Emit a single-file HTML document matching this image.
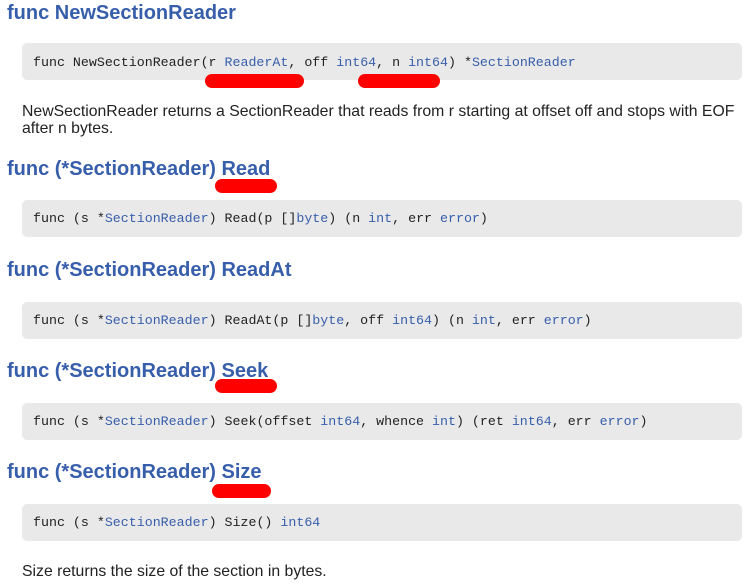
<!DOCTYPE html>
<html><head><style>
body{margin:0;width:752px;height:586px;background:#fff;position:relative;overflow:hidden;font-family:"Liberation Sans",Arial,sans-serif;color:#222}
.h{position:absolute;left:7px;font-weight:bold;font-size:20px;color:#375eab;line-height:24px;white-space:nowrap}
.box{position:absolute;left:22px;width:720px;height:37px;background:#e9e9e9;border-radius:5px}
.c{position:absolute;left:33px;font-family:"Liberation Mono",monospace;font-size:13.3px;line-height:16px;white-space:pre;color:#222}
.c span{color:#375eab}
.p{position:absolute;left:22px;font-size:15.8px;line-height:17px;width:730px;white-space:nowrap}
.r{position:absolute;background:#f00;height:14px;border-radius:7px}
</style></head><body>
<div class="h" style="top:1px">func NewSectionReader</div>
<div class="box" style="top:43px"></div>
<div class="c" style="top:55px">func NewSectionReader(r <span>ReaderAt</span>, off <span>int64</span>, n <span>int64</span>) *<span>SectionReader</span></div>
<div class="p" style="top:103px">NewSectionReader returns a SectionReader that reads from r starting at offset off and stops with EOF<br>after n bytes.</div>
<div class="h" style="top:157px">func (*SectionReader) Read</div>
<div class="box" style="top:200px"></div>
<div class="c" style="top:211px">func (s *<span>SectionReader</span>) Read(p []<span>byte</span>) (n <span>int</span>, err <span>error</span>)</div>
<div class="h" style="top:258px">func (*SectionReader) ReadAt</div>
<div class="box" style="top:302px"></div>
<div class="c" style="top:313px">func (s *<span>SectionReader</span>) ReadAt(p []<span>byte</span>, off <span>int64</span>) (n <span>int</span>, err <span>error</span>)</div>
<div class="h" style="top:359px">func (*SectionReader) Seek</div>
<div class="box" style="top:403px"></div>
<div class="c" style="top:414px">func (s *<span>SectionReader</span>) Seek(offset <span>int64</span>, whence <span>int</span>) (ret <span>int64</span>, err <span>error</span>)</div>
<div class="h" style="top:460px">func (*SectionReader) Size</div>
<div class="box" style="top:504px"></div>
<div class="c" style="top:515px">func (s *<span>SectionReader</span>) Size() <span>int64</span></div>
<div class="p" style="top:563px">Size returns the size of the section in bytes.</div>
<div class="r" style="left:205px;top:74px;width:99px"></div>
<div class="r" style="left:358px;top:74px;width:82px"></div>
<div class="r" style="left:215px;top:179px;width:62px"></div>
<div class="r" style="left:215px;top:379px;width:62px"></div>
<div class="r" style="left:212px;top:484px;width:59px"></div>
</body></html>
